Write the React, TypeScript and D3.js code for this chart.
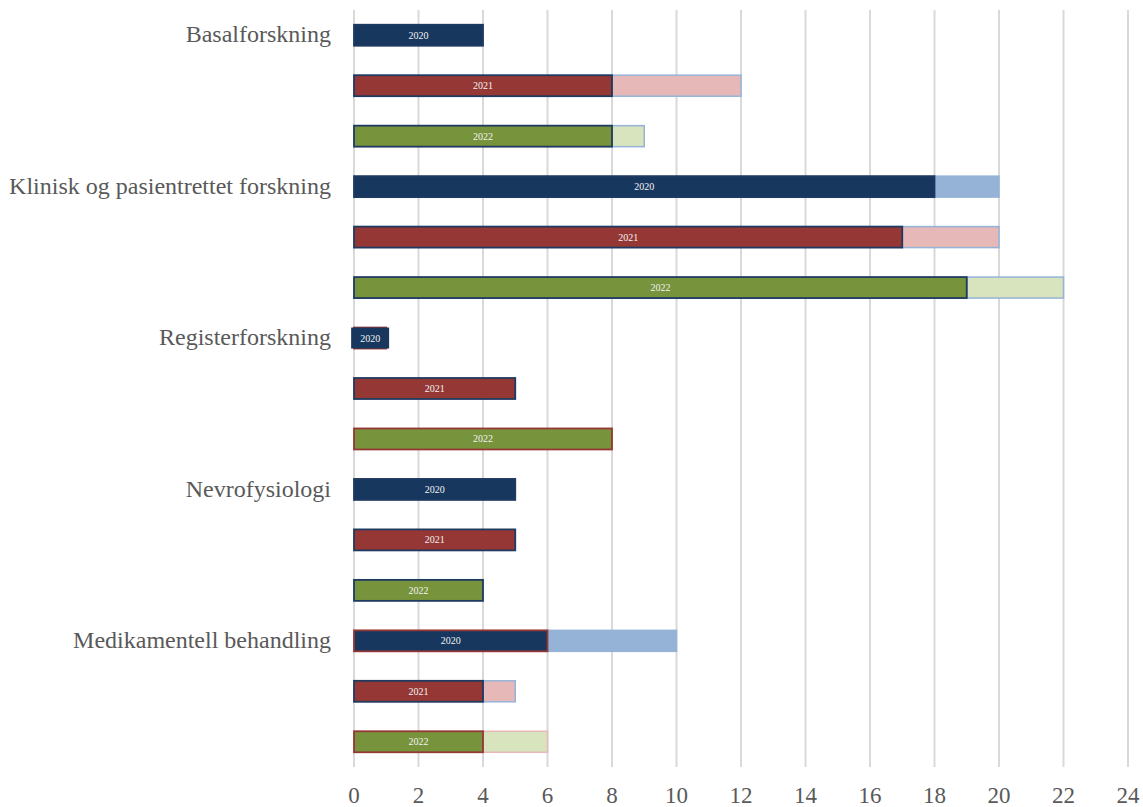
import React from "react";
import * as d3 from "d3";

const categories = [
  "Basalforskning",
  "Klinisk og pasientrettet forskning",
  "Registerforskning",
  "Nevrofysiologi",
  "Medikamentell behandling",
];
const years = ["2020", "2021", "2022"];
// values per category, per year (first segment / additional segment)
const baseValues = [
  [4, 8, 8],
  [18, 17, 19],
  [1, 5, 8],
  [5, 5, 4],
  [6, 4, 4],
];
const extraValues = [
  [0, 4, 1],
  [2, 3, 3],
  [0, 0, 0],
  [0, 0, 0],
  [4, 1, 2],
];
const xTicks = [0, 2, 4, 6, 8, 10, 12, 14, 16, 18, 20, 22, 24];

const darkColors: Record<string, string> = { "2020": "#17375E", "2021": "#953735", "2022": "#77933C" };
const lightColors: Record<string, string> = { "2020": "#95B3D7", "2021": "#E6B9B8", "2022": "#D7E4BD" };
const NAVY = "#1F3A60";
const RED = "#953735";
const LBLUE = "#95B3D7";
const PINK = "#E6B9B8";
// border colours per row (dark segment, light segment)
const darkStroke = [
  [NAVY, NAVY, NAVY],
  [NAVY, NAVY, NAVY],
  [RED, NAVY, RED],
  [NAVY, NAVY, NAVY],
  [RED, NAVY, RED],
];
const lightStroke = [
  [LBLUE, LBLUE, LBLUE],
  [LBLUE, LBLUE, LBLUE],
  [LBLUE, LBLUE, LBLUE],
  [LBLUE, LBLUE, LBLUE],
  [LBLUE, LBLUE, PINK],
];

export default function App() {
  const W = 1143;
  const H = 807;
  const rows = categories.flatMap((c, ci) =>
    years.map((y, yi) => ({ key: `${ci}-${yi}`, ci, yi, cat: c, year: y, base: baseValues[ci][yi], extra: extraValues[ci][yi] }))
  );
  const x = d3.scaleLinear().domain([0, 24]).range([354, 1128]);
  const y = d3
    .scaleBand<string>()
    .domain(rows.map((r) => r.key))
    .range([10, 767])
    .paddingInner(0.584)
    .paddingOuter(0.292);
  const bw = y.bandwidth();
  const font = "'Liberation Serif', 'Times New Roman', serif";

  return (
    <svg width={W} height={H} style={{ position: "absolute", left: 0, top: 0, background: "#fff" }}>
      {xTicks.map((t) => (
        <line key={t} x1={x(t)} x2={x(t)} y1={10} y2={767} stroke="#D9D9D9" strokeWidth={2} />
      ))}
      {rows.map((r) => {
        const y0 = y(r.key)!;
        const xb0 = x(0);
        const xb1 = x(r.base);
        const xe1 = x(r.base + r.extra);
        const cx = (xb0 + xb1) / 2;
        const narrow = xb1 - xb0 < 36;
        return (
          <g key={r.key}>
            {r.extra > 0 && (
              <rect
                x={xb1}
                y={y0}
                width={xe1 - xb1}
                height={bw}
                fill={lightColors[r.year]}
                stroke={lightStroke[r.ci][r.yi]}
                strokeWidth={1.5}
              />
            )}
            <rect
              x={xb0}
              y={y0}
              width={xb1 - xb0}
              height={bw}
              fill={darkColors[r.year]}
              stroke={darkStroke[r.ci][r.yi]}
              strokeWidth={1.8}
            />
            {narrow && <rect x={cx - 19} y={y0} width={38} height={bw} fill={darkColors[r.year]} />}
            <text
              x={cx}
              y={y0 + bw / 2}
              dy="0.35em"
              textAnchor="middle"
              fontFamily={font}
              fontSize={10}
              fill="#F2F2F2"
            >
              {r.year}
            </text>
            {r.yi === 0 && (
              <text
                x={331}
                y={y0 + bw / 2}
                dy="0.3em"
                textAnchor="end"
                fontFamily={font}
                fontSize={24}
                fill="#595959"
              >
                {r.cat}
              </text>
            )}
          </g>
        );
      })}
      {xTicks.map((t) => (
        <text key={t} x={x(t)} y={803} textAnchor="middle" fontFamily={font} fontSize={23} fill="#595959">
          {t}
        </text>
      ))}
    </svg>
  );
}
